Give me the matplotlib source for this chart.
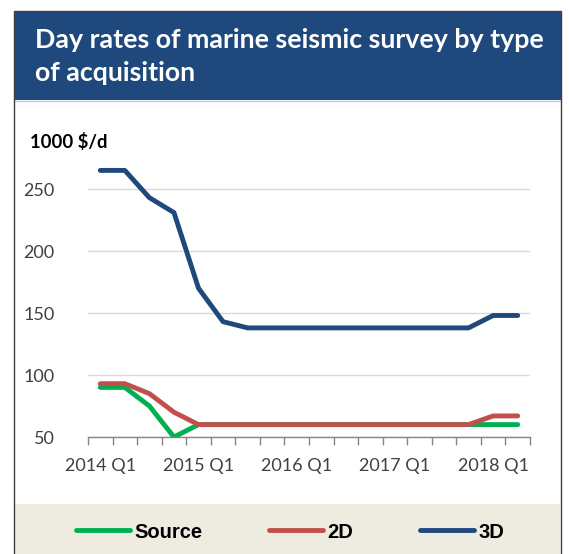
import matplotlib.pyplot as plt
from matplotlib.patches import Rectangle
from matplotlib.lines import Line2D
import numpy as np

# quarterly day rates, 1000 $/d
quarters = [f"{y} Q{q}" for y in range(2014, 2019) for q in range(1, 5)][:18]
source = [90, 90, 75, 50, 60, 60, 60, 60, 60, 60, 60, 60, 60, 60, 60, 60, 60, 60]
rates_2d = [93, 93, 85, 70, 60, 60, 60, 60, 60, 60, 60, 60, 60, 60, 60, 60, 67, 67]
rates_3d = [265, 265, 243, 231, 170, 143, 138, 138, 138, 138, 138, 138, 138, 138, 138, 138, 148, 148]
yticks = [50, 100, 150, 200, 250]

W, H = 569, 554
navy = '#1F497D'
green = '#00B050'
red = '#C0504D'

fig = plt.figure(figsize=(W / 100, H / 100), dpi=100)

def fx(px):
    return px / W

def fy(py):
    return 1 - py / H

# banner, legend band and frame
fig.patches.append(Rectangle((fx(14), fy(100)), fx(547), 89 / H,
                             transform=fig.transFigure, facecolor=navy, edgecolor='none', zorder=1))
fig.lines.append(Line2D([fx(14), fx(561)], [fy(101), fy(101)], transform=fig.transFigure,
                        color='#B8CCE4', lw=1, zorder=1))
fig.patches.append(Rectangle((fx(15), -0.01), fx(545), 50 / H + 0.01,
                             transform=fig.transFigure, facecolor='#EEECE1', edgecolor='none', zorder=1))
fig.patches.append(Rectangle((fx(14), -0.02), fx(547), 1 - 11 / H + 0.02,
                             transform=fig.transFigure, facecolor='none', edgecolor='#404040', lw=1, zorder=3))

fig.text(fx(35), fy(48), "Day rates of marine seismic survey by type", color='white',
         family='Lato', weight='bold', fontsize=19.3, va='baseline', ha='left')
fig.text(fx(35), fy(81), "of acquisition", color='white',
         family='Lato', weight='bold', fontsize=19.3, va='baseline', ha='left')
fig.text(fx(30), fy(148), "1000 $/d", color='black',
         family='Lato', weight='bold', fontsize=13.3, va='baseline', ha='left')

ax = fig.add_axes([fx(88), fy(437), fx(530 - 88), (437 - 151.8) / H])
x = np.arange(len(quarters))
style = dict(lw=3.5, solid_capstyle='round', solid_joinstyle='round')
l1, = ax.plot(x, source, color=green, zorder=3, **style)
l2, = ax.plot(x, rates_2d, color=red, zorder=3, **style)
l3, = ax.plot(x, rates_3d, color=navy, zorder=4, **style)

ax.set_xlim(-0.5, len(quarters) - 0.5)
ax.set_ylim(50, 280)
ax.set_yticks(yticks)
ax.set_yticklabels([str(v) for v in yticks], family='Lato', fontsize=13, color='#404040')
ax.tick_params(axis='y', length=0, pad=24)
ax.grid(axis='y', color='#D9D9D9', lw=1)
ax.set_axisbelow(True)

# ticks between categories, labels on every 4th quarter
ax.set_xticks(np.arange(-0.5, len(quarters), 1.0))
ax.set_xticklabels([])
ax.tick_params(axis='x', which='major', length=6, width=1, color='#868686', direction='out')
ax.set_xticks(x[::4], minor=True)
ax.set_xticklabels(quarters[::4], minor=True, family='Lato', fontsize=13, color='#404040')
ax.tick_params(axis='x', which='minor', length=0, pad=15)

for s in ['top', 'right', 'left']:
    ax.spines[s].set_visible(False)
ax.spines['bottom'].set_color('#868686')
ax.spines['bottom'].set_linewidth(1)
ax.spines['bottom'].set_zorder(5)

fig.legend([l1, l2, l3], ['Source', '2D', '3D'], loc='center', ncol=3,
           bbox_to_anchor=(fx(290), fy(532)), frameon=False,
           prop={'family': 'Liberation Sans', 'weight': 'bold', 'size': 14.5},
           handlelength=2.7, handletextpad=0.2, columnspacing=3.3)

fig.savefig('out.png', dpi=100)
